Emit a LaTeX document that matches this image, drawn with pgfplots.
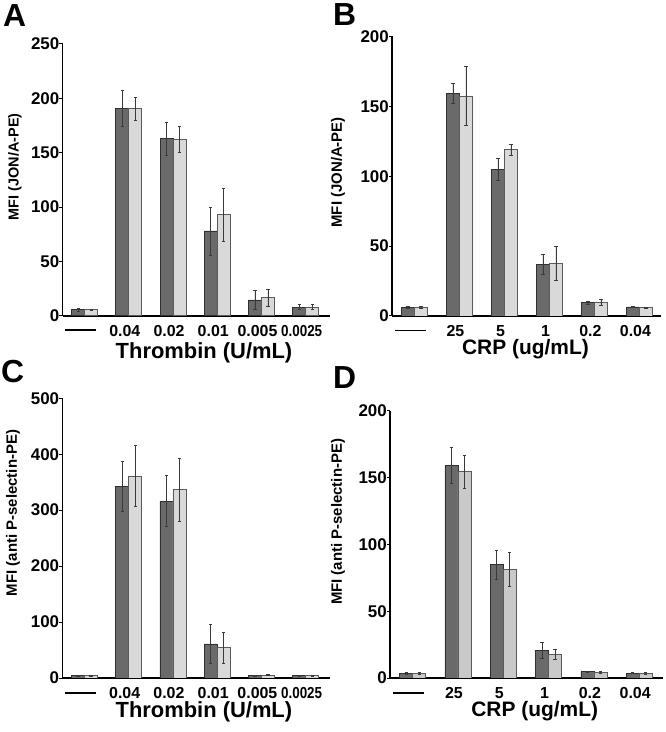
\documentclass[border=0pt]{standalone}
\usepackage{pgfplots}
\pgfplotsset{compat=1.18}
\usepackage{pgfplotstable}
\usepackage{fontspec}
\setmainfont{Liberation Sans}
\definecolor{darkbar}{HTML}{6A6A6A}
\definecolor{lightbar}{HTML}{D9D9D9}
\definecolor{lightbarD}{HTML}{C9C9C9}
\definecolor{darkedge}{HTML}{303030}
\definecolor{lightedge}{HTML}{5A5A5A}
\definecolor{errc}{HTML}{3A3A3A}

\pgfplotstableread{
x d de l le
0 5.5 1 5.5 0.8
1 191 16.5 190.5 10.5
2 163 15 162 12
3 78 22 93 24.5
4 14.5 8.5 16.5 7.7
5 8 2.5 8 2.3
}\dataA
\pgfplotstableread{
x d de l le
0 6.2 0.6 6.2 0.5
1 159.5 7 157.5 21
2 105 8 119 3.8
3 37 7.4 37.8 12
4 9.6 1 10 2
5 6.5 0.3 6 0.5
}\dataB
\pgfplotstableread{
x d de l le
0 4 0.5 4 0.5
1 343 45 361 54.5
2 316 45.5 337 56.5
3 61 35.5 54 27
4 4 0.5 5 1
5 4 0.5 4 0.5
}\dataC
\pgfplotstableread{
x d de l le
0 3.5 0.5 3.5 0.7
1 159 13.5 154.5 12.5
2 85 10.8 81.3 13
3 20.5 6 17.8 4
4 4.7 0.3 4.3 0.5
5 3.6 0.4 3.6 0.5
}\dataD

\newcommand{\dashlbl}{\rule[5bp]{31bp}{1.8bp}}
\newcommand{\narrow}[1]{\scalebox{0.84}[1]{#1}}

\pgfplotsset{
 panel/.style={
  scale only axis, anchor=south west,
  ybar=0pt, bar width=13bp,
  ymin=0, xmin=-0.5,
  axis x line*=bottom, axis y line*=left,
  axis line style={line width=1.3bp, black, -},
  x axis line style={line width=1.8bp},
  xtick={0,...,5},
  xtick style={draw=none},
  ytick style={line width=1bp, black},
  tick align=outside, major tick length=3bp,
  /pgf/number format/assume math mode=true,
  tick label style={font=\fontsize{16}{16}\selectfont\bfseries},
  xticklabel style={anchor=base, inner sep=0pt, yshift=-17.5bp, xshift=-4bp},
  yticklabel style={inner sep=0pt, font=\fontsize{17}{17}\selectfont\bfseries},
  xlabel style={font=\fontsize{21}{21}\selectfont\bfseries, inner sep=0pt, anchor=north},
  ylabel style={font=\fontsize{15}{15}\selectfont\bfseries, anchor=center, inner sep=0pt},
 },
 errs/.style={error bars/.cd, y dir=both, y explicit,
   error bar style={line width=0.6bp, errc},
   error mark options={rotate=90, mark size=1.6bp, line width=0.6bp, errc}},
 darkp/.style={fill=darkbar, draw=darkedge, line width=0.7bp, errs},
 lightp/.style={fill=lightbar, draw=lightedge, line width=0.7bp, errs},
 lightpD/.style={fill=lightbarD, draw=lightedge, line width=0.7bp, errs},
}

\begin{document}
\begin{tikzpicture}
\path[use as bounding box] (0,0) rectangle (666bp,732bp);

% Panel A
\begin{axis}[panel, at={(62.5bp,416.3bp)}, width=267.5bp, height=271.7bp,
  xmax=5.55, ymax=250, ytick={0,50,...,250},
  xticklabels={\dashlbl,0.04,0.02,0.01,0.005,\narrow{0.0025}},
  xlabel={Thrombin (U/mL)}, ylabel={MFI (JON/A-PE)},
  xlabel style={at={(axis description cs:0.529,0)}, yshift=-27bp, font=\fontsize{22}{22}\selectfont\bfseries},
  ylabel style={at={(axis description cs:-0.178,0.548)}, font=\fontsize{14.5}{14.5}\selectfont\bfseries}]
\addplot[darkp] table[x=x, y=d, y error=de] {\dataA};
\addplot[lightp] table[x=x, y=l, y error=le] {\dataA};
\end{axis}

% Panel B
\begin{axis}[panel, at={(392bp,416bp)}, width=269bp, height=279.5bp,
  xmax=5.48, ymax=200, ytick={0,50,...,200},
  xticklabels={\dashlbl,25,5,1,0.2,0.04},
  xlabel={CRP (ug/mL)}, ylabel={MFI (JON/A-PE)},
  xlabel style={at={(axis description cs:0.496,0)}, yshift=-23.5bp},
  ylabel style={at={(axis description cs:-0.201,0.514)}}]
\addplot[darkp] table[x=x, y=d, y error=de] {\dataB};
\addplot[lightp] table[x=x, y=l, y error=le] {\dataB};
\end{axis}

% Panel C
\begin{axis}[panel, at={(62.3bp,54bp)}, width=267.7bp, height=279.7bp,
  xmax=5.55, ymax=500, ytick={0,100,...,500},
  xticklabels={\dashlbl,0.04,0.02,0.01,0.005,\narrow{0.0025}},
  xlabel={Thrombin (U/mL)}, ylabel={MFI (anti P-selectin-PE)},
  xlabel style={at={(axis description cs:0.529,0)}, yshift=-23.5bp, font=\fontsize{22}{22}\selectfont\bfseries},
  ylabel style={at={(axis description cs:-0.184,0.59)}}]
\addplot[darkp] table[x=x, y=d, y error=de] {\dataC};
\addplot[lightp] table[x=x, y=l, y error=le] {\dataC};
\end{axis}

% Panel D
\begin{axis}[panel, at={(390bp,54bp)}, width=273bp, height=267.3bp,
  xmax=5.525, ymax=200, ytick={0,50,...,200},
  xticklabels={\dashlbl,25,5,1,0.2,0.04},
  xlabel={CRP (ug/mL)}, ylabel={MFI (anti P-selectin-PE)},
  xlabel style={at={(axis description cs:0.53,0)}, yshift=-23.5bp},
  ylabel style={at={(axis description cs:-0.19,0.584)}}]
\addplot[darkp] table[x=x, y=d, y error=de] {\dataD};
\addplot[lightpD] table[x=x, y=l, y error=le] {\dataD};
\end{axis}

% Panel letters
\node[anchor=base west, inner sep=0pt, font=\fontsize{32}{32}\selectfont\bfseries] at (3bp,705.3bp) {A};
\node[anchor=base west, inner sep=0pt, font=\fontsize{32}{32}\selectfont\bfseries] at (333bp,706bp) {B};
\node[anchor=base west, inner sep=0pt, font=\fontsize{32}{32}\selectfont\bfseries] at (1bp,349.3bp) {C};
\node[anchor=base west, inner sep=0pt, font=\fontsize{32}{32}\selectfont\bfseries] at (333bp,343.3bp) {D};
\end{tikzpicture}
\end{document}
